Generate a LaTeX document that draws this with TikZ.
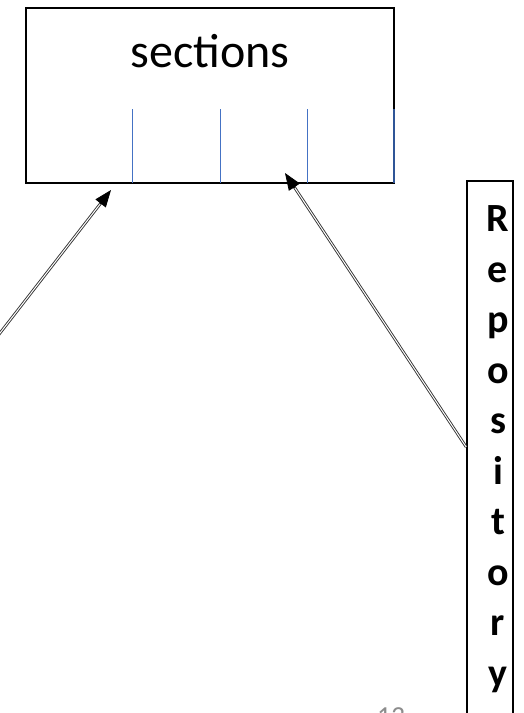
\documentclass[tikz,border=0pt]{standalone}
\usepackage{fontspec}
\setmainfont{Carlito}
\usetikzlibrary{arrows.meta,calc}
\definecolor{secblue}{HTML}{4472C4}
\definecolor{secdark}{HTML}{2F5597}
\begin{document}
\begin{tikzpicture}[x=1pt,y=-1pt,
  boxstyle/.style={draw=black,line width=1.6pt,rectangle,inner sep=0pt},
  divider/.style={draw=secblue,line width=0.9pt},
  link/.style={draw=black!80,line width=0.9pt,double=white,double distance=1pt,shorten >=12pt},
  linkhead/.style={draw=black,line width=0.8pt,
    -{Triangle[length=17pt,width=13pt,fill=black,color=black]}},
  letter/.style={font=\fontsize{40}{40}\selectfont\bfseries,anchor=base,inner sep=0pt}]
\useasboundingbox (0,0) rectangle (523,713);
% sections box
\node[boxstyle,minimum width=368pt,minimum height=175pt] (sec) at (210,95.5) {};
\node[font=\fontsize{48}{48}\selectfont,anchor=base,inner sep=0pt] (sectxt) at (210,67) {sections};
\foreach \x in {132,220,307} \draw[divider] (\x,109) -- (\x,183);
\draw[draw=secdark,line width=1.2pt] (394,109) -- (394,183);
% repository box
\node[boxstyle,minimum width=46pt,minimum height=560pt] (repo) at (490,461) {};
\foreach \c [count=\i] in {R,e,p,o,s,i,t,o,r,y}
  \node[letter] (l\i) at (498,{231.5+(\i-1)*50.5}) {\c};
% connectors
\coordinate (ls) at (-5,339.5);
\coordinate (lt) at (111,190);
\coordinate (rs) at (repo.west |- 0,447);
\coordinate (rt) at (285,173);
\draw[link] (ls) -- (lt);
\draw[linkhead] ($(lt)!18pt!(ls)$) -- (lt);
\draw[link] (rs) -- (rt);
\draw[linkhead] ($(rt)!18pt!(rs)$) -- (rt);
% page number
\node[font=\fontsize{27.5}{27.5}\selectfont,text=black!45,anchor=base,inner sep=0pt] (pg) at (391,725.5) {13};
\end{tikzpicture}
\end{document}
